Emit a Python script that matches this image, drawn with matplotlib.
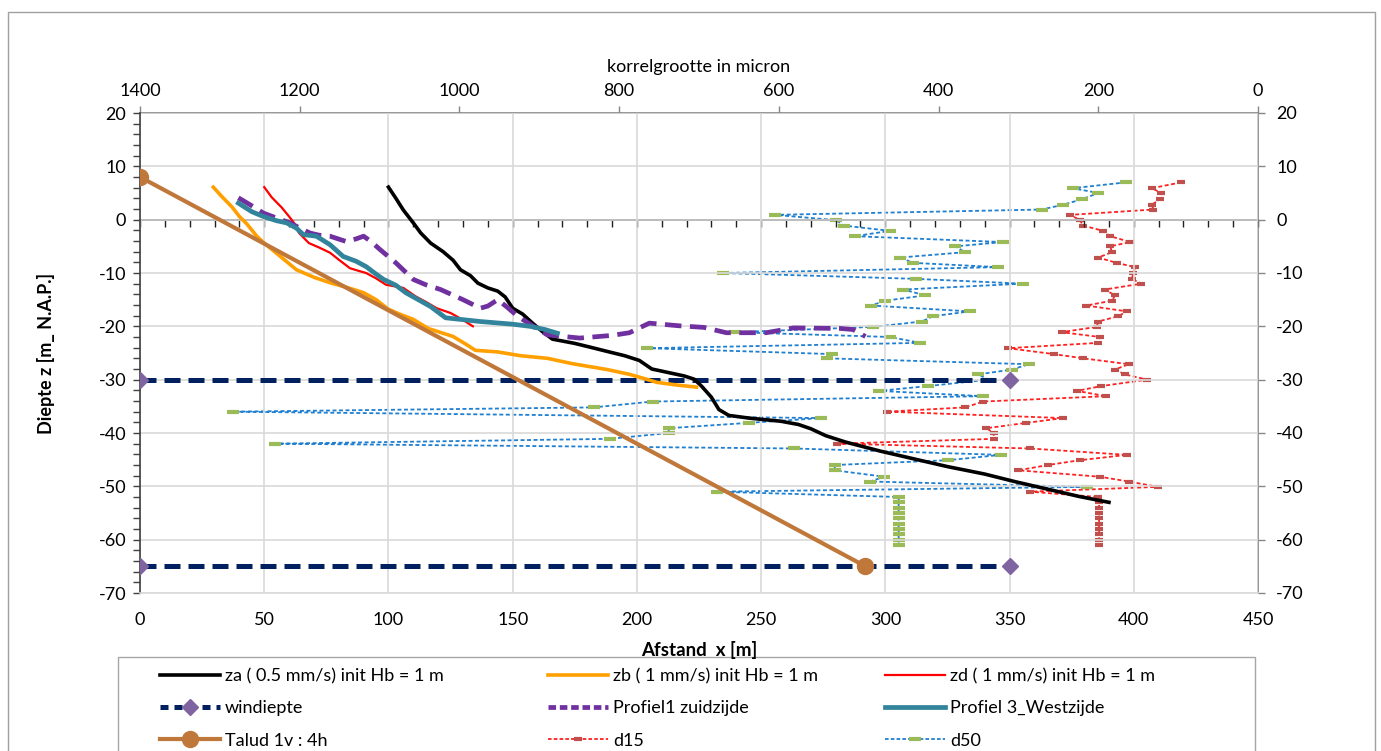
import matplotlib
matplotlib.use("Agg")
import matplotlib.pyplot as plt
from matplotlib.ticker import MultipleLocator, FixedLocator
from matplotlib.patches import Rectangle
from matplotlib.lines import Line2D

plt.rcParams['font.family'] = ['Lato', 'DejaVu Sans']
plt.rcParams['axes.unicode_minus'] = False

# ---- erosion profiles (afstand x [m], diepte z [m NAP]) ----
za_x = [100, 103, 106, 110, 113, 117, 122, 126, 129, 133, 136, 140, 144, 147, 150, 154, 158, 162, 166,
        175, 182, 188, 195, 201, 206, 212, 219, 223, 226, 230, 233, 237, 245, 258, 265, 270, 276, 284,
        298, 311, 325, 340, 352, 365, 378, 390]
za_z = [6.1, 4.0, 1.8, -0.6, -2.5, -4.4, -6.0, -7.6, -9.4, -10.5, -11.9, -12.8, -13.4, -14.5, -16.6, -17.7,
        -19.4, -21.0, -22.4, -23.2, -24.0, -24.7, -25.5, -26.4, -28.0, -28.6, -29.3, -29.9, -31.2, -33.3,
        -35.6, -36.7, -37.2, -37.8, -38.4, -39.2, -40.5, -41.7, -43.4, -44.8, -46.3, -47.7, -49.1, -50.5,
        -51.9, -53.0]

zb_x = [29.5, 33, 37, 40, 43, 47, 50, 56, 63, 70, 77, 84, 90, 95, 100, 105, 110, 116, 122, 126, 131, 135,
        144, 153, 164, 174, 188, 197, 203, 208, 216, 224]
zb_z = [6.1, 4.3, 2.4, 0.6, -0.8, -3.1, -4.4, -6.7, -9.4, -10.8, -11.9, -12.8, -13.7, -15.0, -16.8, -17.8,
        -18.7, -20.4, -21.3, -21.9, -23.3, -24.5, -24.8, -25.5, -26.0, -27.0, -28.1, -29.0, -29.8, -30.5,
        -31.0, -31.4]

zd_x = [50, 53, 57, 60, 62, 64, 68, 72, 76.5, 80, 84.5, 88, 91, 95, 99, 106, 111, 115, 119.4, 125, 130, 134]
zd_z = [6.1, 4.2, 2.3, 0.6, -0.6, -2.5, -4.4, -5.2, -6.2, -7.5, -9.1, -9.6, -10.0, -11.0, -12.2, -12.8,
        -14.4, -15.4, -16.6, -17.5, -18.8, -20.0]

# ---- measured profiles ----
prof1_x = [39.6, 45, 49.6, 55, 60.4, 64, 68.4, 72, 76.5, 83, 87, 90, 93, 96.6, 103, 110, 115, 121, 130, 137,
           140, 144, 148, 152, 158, 164, 177, 190, 197, 205, 217, 227, 236, 252, 263, 282, 287, 292]
prof1_z = [4.1, 2.6, 1.25, 0.3, -0.6, -1.5, -2.5, -2.9, -3.1, -4.1, -3.6, -3.1, -4.1, -5.6, -8.1, -11.2,
           -12.2, -13.1, -15.0, -16.6, -16.2, -15.0, -16.5, -18.1, -19.9, -21.6, -22.2, -21.7, -21.2, -19.4,
           -19.9, -20.2, -21.2, -21.2, -20.3, -20.4, -20.6, -21.9]

prof3_x = [39.6, 45, 49.6, 55, 59, 63, 65.7, 71, 76.5, 81.8, 87, 91, 95, 98, 103, 107, 112, 117, 123, 137,
           150, 157, 163, 168]
prof3_z = [3.1, 1.5, 0.6, -0.2, -0.6, -1.6, -2.8, -3.1, -4.7, -6.9, -7.8, -8.8, -10.2, -11.2, -12.3, -13.7,
           -15.0, -16.3, -18.4, -19.1, -19.6, -20.0, -20.6, -21.3]

# ---- reference lines ----
wind_x = [0, 350, None, 0, 350]
wind_z = [-30, -30, None, -65, -65]

talud_x = [0, 292]
talud_z = [8, -65]

# ---- grain size (korrelgrootte [micron]) against depth ----
d_z = [7.0, 5.9, 5.0, 3.8, 2.8, 1.9, 0.9, -0.1, -1.1, -2.1, -3.1, -4.2, -5.0, -6.1, -7.1, -8.1, -8.9,
       -10.0, -11.1, -12.0, -13.1, -14.2, -15.2, -16.1, -17.2, -18.1, -19.1, -20.1, -21.1, -22.0, -23.1,
       -24.1, -25.2, -26.0, -27.1, -28.1, -29.0, -30.0, -31.2, -32.1, -33.1, -34.1, -35.2, -36.0, -37.2,
       -38.1, -39.1, -40.0, -41.1, -42.0, -42.9, -44.1, -45.1, -46.0, -47.0, -48.2, -49.1, -50.1, -51.0,
       -52.0, -53.0, -54.0, -55.0, -56.0, -57.0, -58.0, -59.0, -60.0, -61.0]

d15 = [96, 133, 121, 123, 133, 131, 235, 223, 219, 194, 185, 160, 185, 183, 200, 177, 154, 156, 158, 146,
       192, 179, 183, 215, 164, 175, 200, 202, 246, 198, 200, 313, 256, 219, 162, 179, 167, 139, 196, 227,
       190, 344, 367, 465, 244, 290, 340, 331, 331, 527, 286, 164, 223, 263, 300, 198, 162, 125, 286, 200,
       199, 199, 199, 199, 199, 199, 199, 199, 199]

d50 = [165, 232, 200, 221, 244, 271, 605, 528, 519, 461, 505, 319, 379, 367, 448, 432, 325, 670, 428, 294,
       444, 417, 467, 484, 361, 407, 421, 482, 655, 461, 423, 765, 534, 540, 287, 308, 350, 338, 413, 475,
       344, 758, 832, 1284, 547, 638, 738, 738, 812, 1231, 581, 322, 388, 530, 530, 468, 486, 214, 678, 450,
       450, 450, 450, 450, 450, 450, 450, 450, 450]

x_ticks = [0, 50, 100, 150, 200, 250, 300, 350, 400, 450]
z_ticks = [20, 10, 0, -10, -20, -30, -40, -50, -60, -70]
micron_ticks = [1400, 1200, 1000, 800, 600, 400, 200, 0]

# ---------------------------------------------------------------------------
W, H = 1381, 751
fig = plt.figure(figsize=(W / 100, H / 100), dpi=100)
fig.patch.set_facecolor('white')

left, right, top, bottom = 140 / W, 1258 / W, 1 - 113 / H, 1 - 593 / H
ax = fig.add_axes([left, bottom, right - left, top - bottom])
ax2 = ax.twiny()
ax.set_zorder(2)
ax2.set_zorder(1)
ax.patch.set_visible(False)
ax2.patch.set_facecolor('#FFFFCC')

ax.set_xlim(0, 450)
ax.set_ylim(-70, 20)
ax2.set_xlim(1400, 0)

grid_c = '#D9D9D9'
axis_c = '#868686'
FS = 13

# styles shared by plot lines and legend keys
st_za = dict(color='black', lw=2.6)
st_zb = dict(color='#FFA000', lw=2.6)
st_zd = dict(color='#FF0000', lw=1.6)
st_wind = dict(color='#002060', lw=3.6, marker='D', ms=8.5, mfc='#8064A2', mec='#8064A2')
st_p1 = dict(color='#7030A0', lw=3.4)
st_p3 = dict(color='#31849B', lw=3.4)
st_tal = dict(color='#C0783A', lw=3.0, marker='o', ms=11.5, mfc='#C0783A', mec='#C0783A')
st_d15 = dict(color='#FF2020', lw=1.3, marker='_', ms=6, mew=3, mec='#C0504D')
st_d50 = dict(color='#1F7FD0', lw=1.3, marker='_', ms=9, mew=3, mec='#9BBB59')

# grain-size curves on the secondary (top) axis
ax2.plot(d15, d_z, ls=(0, (2.2, 1.4)), zorder=3, **st_d15)
ax2.plot(d50, d_z, ls=(0, (2.2, 1.4)), zorder=3, **st_d50)

# primary series
ax.plot(za_x, za_z, zorder=5, **st_za)
ax.plot(zb_x, zb_z, zorder=5, **st_zb)
ax.plot(zd_x, zd_z, zorder=5, **st_zd)
ax.plot(wind_x, wind_z, ls=(0, (3.2, 1.6)), zorder=4, **st_wind)
ax.plot(prof1_x, prof1_z, ls=(0, (3.5, 1.8)), zorder=5, **st_p1)
ax.plot(prof3_x, prof3_z, zorder=5, **st_p3)
ax.plot(talud_x, talud_z, zorder=6, **st_tal)

# grid
ax.xaxis.set_major_locator(FixedLocator(x_ticks))
ax.yaxis.set_major_locator(FixedLocator(z_ticks))
ax.yaxis.set_minor_locator(MultipleLocator(2))
ax.grid(True, which='major', color=grid_c, lw=1.2, zorder=0)

# bottom labels (axis line drawn at z = 0 separately)
ax.tick_params(axis='x', which='both', length=0, pad=14, labelsize=FS)
ax.spines['bottom'].set_color(grid_c)
ax.spines['bottom'].set_linewidth(1.2)
ax.spines['top'].set_visible(False)
ax.spines['right'].set_visible(False)
ax.spines['left'].set_color('#404040')
ax.spines['left'].set_linewidth(1.2)
ax.tick_params(axis='y', which='both', direction='out', length=5, width=1.0,
               color='#404040', labelsize=FS, pad=5)

zero_ax = ax.secondary_xaxis(70 / 90)
zero_ax.set_alignment('bottom')
zero_ax.xaxis.set_major_locator(MultipleLocator(10))
zero_ax.tick_params(axis='x', direction='out', length=5, width=1.0, color='#202020',
                    labelbottom=False, labeltop=False)
for s in zero_ax.spines.values():
    s.set_color('#202020')
    s.set_linewidth(1.3)

right_ax = ax.secondary_yaxis('right')
right_ax.yaxis.set_major_locator(FixedLocator(z_ticks))
right_ax.tick_params(axis='y', direction='out', length=5, width=1.0, color=axis_c,
                     labelsize=FS, pad=8)
right_ax.spines['right'].set_color(axis_c)
right_ax.spines['right'].set_linewidth(1.2)

# top axis
ax2.xaxis.set_major_locator(FixedLocator(micron_ticks))
ax2.tick_params(axis='x', direction='out', length=5, width=1.0, color=axis_c,
                labelsize=FS, pad=5)
ax2.spines['top'].set_color(axis_c)
ax2.spines['top'].set_linewidth(1.2)
for s in ('bottom', 'left', 'right'):
    ax2.spines[s].set_visible(False)

ax2.set_xlabel('korrelgrootte in micron', fontsize=FS, labelpad=8)
ax.set_xlabel('Afstand  x [m]', fontsize=FS + 0.5, fontweight='bold', labelpad=9)
ax.set_ylabel('Diepte z [m_ N.A.P.]', fontsize=FS, fontweight='bold', labelpad=31)

# legend: framed box with three columns of entries
fig.patches.append(Rectangle((118 / W, -0.05), (1255 - 118) / W, 1 - 657 / H + 0.05,
                             transform=fig.transFigure, fill=False, ec='#A6A6A6', lw=1.0))

columns = [
    (160, [(st_za, '-', 'za ( 0.5 mm/s) init Hb = 1 m'),
           (st_wind, (0, (1.6, 1.2)), 'windiepte'),
           (st_tal, '-', 'Talud 1v : 4h')]),
    (548, [(st_zb, '-', 'zb ( 1 mm/s) init Hb = 1 m'),
           (st_p1, (0, (1.6, 0.8)), 'Profiel1 zuidzijde'),
           (st_d15, (0, (2, 1.2)), 'd15')]),
    (885, [(st_zd, '-', 'zd ( 1 mm/s) init Hb = 1 m'),
           (st_p3, '-', 'Profiel 3_Westzijde'),
           (st_d50, (0, (2, 1.2)), 'd50')]),
]
for x0, entries in columns:
    handles = [Line2D([], [], ls=ls, **st) for st, ls, _ in entries]
    texts = [t for _, _, t in entries]
    fig.legend(handles, texts, loc='upper left', bbox_to_anchor=(x0 / W, 1 - 668 / H),
               frameon=False, fontsize=FS, handlelength=3.3, handletextpad=0.3,
               labelspacing=0.9, borderpad=0, borderaxespad=0)

# outer chart border
fig.patches.append(Rectangle((8 / W, -0.02), (1375 - 8) / W, 1 - 12 / H + 0.02,
                             transform=fig.transFigure, fill=False, ec='#A0A0A0', lw=1.0))

fig.savefig('out.png', dpi=100)
